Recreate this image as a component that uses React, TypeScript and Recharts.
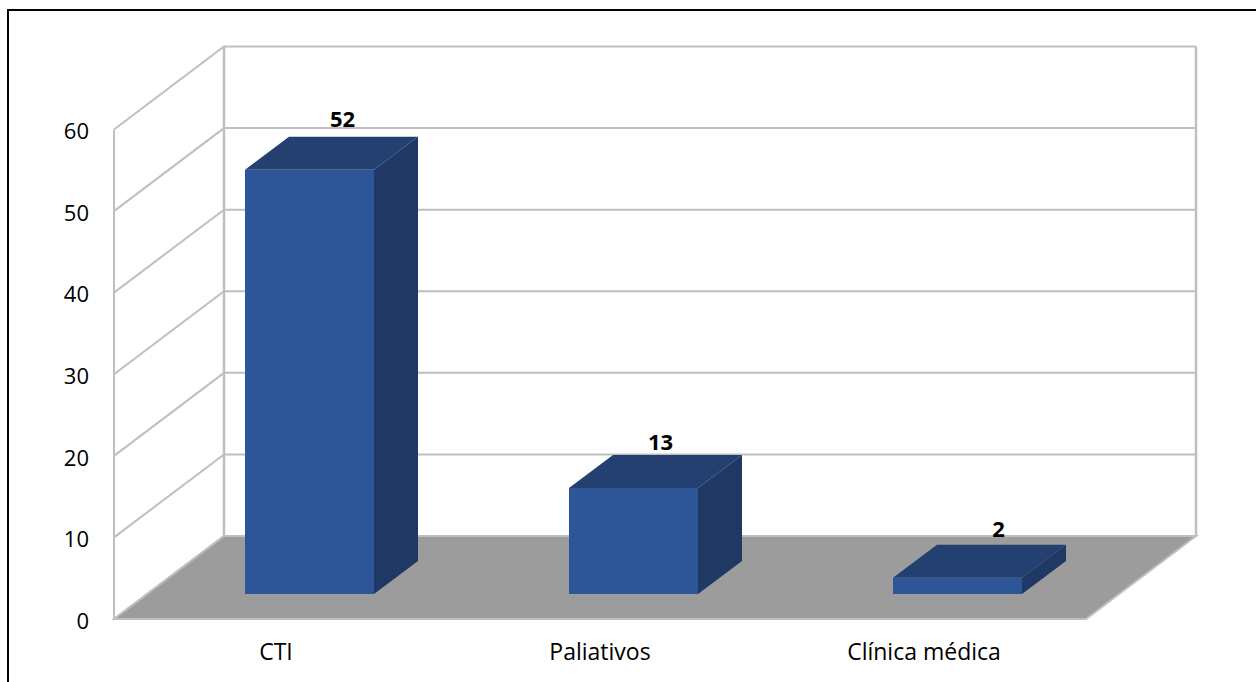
import React from 'react';
import { BarChart, Bar, XAxis, YAxis, CartesianGrid, LabelList, ReferenceArea } from 'recharts';

const categories = ['CTI', 'Paliativos', 'Clínica médica'];
const values = [52, 13, 2];
const yTicks = [0, 10, 20, 30, 40, 50, 60];

const data = categories.map((name, i) => ({ name, value: values[i] }));

// oblique projection of the box: how far the back wall sits from the front plane
const WALL_DX = 110;
const WALL_DY = 83;
// bars stand part of the way into the floor and have their own depth
const BAR_SHIFT_X = 33;
const BAR_SHIFT_Y = 25;
const BAR_DX = 44;
const BAR_DY = 33;

const GRID = '#bfbfbf';
const FLOOR = '#9c9c9c';
const BAR_FRONT = '#2e5597';
const BAR_TOP = '#244070';
const BAR_SIDE = '#1f3864';
const FONT = '"Open Sans", sans-serif';

// value labels do not sit on a common offset, each is placed on its own bar
const LABEL_SHIFT_X = [66, 60, 74];
const LABEL_SHIFT_Y = [19, 14, 17];

function Room({ x, y, width, height }: any) {
  const bottom = y + height;
  const right = x + width;
  return (
    <g>
      <polygon
        points={`${x},${bottom} ${x + WALL_DX},${bottom - WALL_DY} ${right + WALL_DX},${bottom - WALL_DY} ${right},${bottom}`}
        fill={FLOOR}
        stroke={GRID}
        strokeWidth={2}
      />
      <line x1={x} y1={y} x2={x} y2={bottom} stroke={GRID} strokeWidth={2} />
      <line x1={x + WALL_DX} y1={y - WALL_DY} x2={x + WALL_DX} y2={bottom - WALL_DY} stroke={GRID} strokeWidth={2.5} />
      <line x1={right + WALL_DX} y1={y - WALL_DY} x2={right + WALL_DX} y2={bottom - WALL_DY} stroke={GRID} strokeWidth={2.5} />
    </g>
  );
}

// one grid line runs along the side wall, then across the back wall
function WallLine({ x1, y1, x2 }: any) {
  return (
    <polyline
      points={`${x1},${y1} ${x1 + WALL_DX},${y1 - WALL_DY} ${x2 + WALL_DX},${y1 - WALL_DY}`}
      fill="none"
      stroke={GRID}
      strokeWidth={2}
    />
  );
}

function Box({ x, y, width, height }: any) {
  const left = x + BAR_SHIFT_X;
  const top = y - BAR_SHIFT_Y;
  const right = left + width;
  const bottom = top + height;
  return (
    <g>
      <polygon
        points={`${left},${top} ${left + BAR_DX},${top - BAR_DY} ${right + BAR_DX},${top - BAR_DY} ${right},${top}`}
        fill={BAR_TOP}
      />
      <polygon
        points={`${right},${top} ${right + BAR_DX},${top - BAR_DY} ${right + BAR_DX},${bottom - BAR_DY} ${right},${bottom}`}
        fill={BAR_SIDE}
      />
      <rect x={left} y={top} width={width} height={height} fill={BAR_FRONT} />
    </g>
  );
}

function ValueLabel({ x, y, width, value, index }: any) {
  return (
    <text
      x={x + width / 2 + LABEL_SHIFT_X[index]}
      y={y - BAR_SHIFT_Y - BAR_DY - LABEL_SHIFT_Y[index]}
      textAnchor="middle"
      dominantBaseline="central"
      fontFamily={FONT}
      fontWeight={700}
      fontSize={22}
      fill="#000"
    >
      {value}
    </text>
  );
}

export default function App() {
  return (
    <div style={{ position: 'absolute', left: 0, top: 0, width: 1256, height: 682, background: '#fff', overflow: 'hidden' }}>
      {/* frame only has its top and left edges in view */}
      <div
        style={{
          position: 'absolute',
          left: 7,
          top: 9,
          width: 1260,
          height: 690,
          borderTop: '2px solid #000',
          borderLeft: '2px solid #000',
        }}
      />
      <BarChart
        width={1256}
        height={682}
        data={data}
        margin={{ top: 129.5, right: 170, bottom: 0, left: 14 }}
        style={{ position: 'absolute', left: 0, top: 0 }}
      >
        <CartesianGrid vertical={false} horizontal={(p: any) => <WallLine key={p.key ?? p.y1} {...p} />} />
        <ReferenceArea y1={0} y2={60} shape={<Room />} ifOverflow="visible" />
        <XAxis
          dataKey="name"
          height={63}
          axisLine={false}
          tickLine={false}
          tickSize={0}
          tickMargin={25}
          tick={{ fill: '#000', fontSize: 23, fontFamily: FONT }}
          interval={0}
        />
        <YAxis
          width={100}
          domain={[0, 60]}
          ticks={yTicks}
          axisLine={false}
          tickLine={false}
          tickSize={0}
          tickMargin={25}
          tick={{ fill: '#000', fontSize: 22, fontFamily: FONT, dy: 2 }}
        />
        <Bar dataKey="value" barSize={129} shape={<Box />} isAnimationActive={false}>
          <LabelList dataKey="value" content={<ValueLabel />} />
        </Bar>
      </BarChart>
    </div>
  );
}
